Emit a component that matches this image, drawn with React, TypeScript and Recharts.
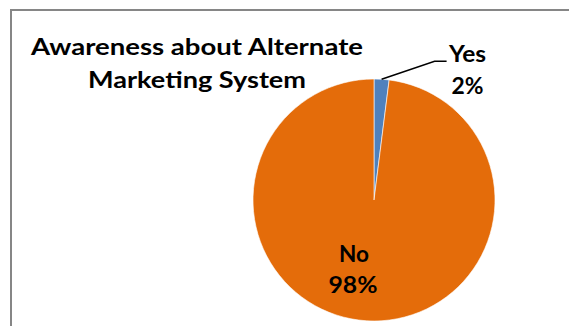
import React from 'react';
import { PieChart, Pie, Cell } from 'recharts';

const categories = ['Yes', 'No'];
const values = [2, 98];
const percentLabels = ['2%', '98%'];
const colors = ['#4F81BD', '#E46C0A'];
const titleLines = ['Awareness about Alternate', 'Marketing System'];
const titleWidths = [332, 218];
const nameWidths = [37, 30];
const pctWidths = [32, 49];

const data = categories.map((name, i) => ({ name, value: values[i], pct: percentLabels[i] }));

const FONT = 'Lato, "Open Sans", sans-serif';
const RAD = Math.PI / 180;

const T = (p: { x: number; y: number; w: number; s: string }) => (
  <text
    x={p.x}
    y={p.y}
    textAnchor="middle"
    fontFamily={FONT}
    fontWeight={700}
    fontSize={23}
    fill="#000"
    textLength={p.w}
    lengthAdjust="spacingAndGlyphs"
  >
    {p.s}
  </text>
);

const renderLabel = (props: any) => {
  const { cx, cy, midAngle, outerRadius, index } = props;
  const d = data[index];
  if (index === 0) {
    const sx = cx + outerRadius * Math.cos(-midAngle * RAD);
    const sy = cy + outerRadius * Math.sin(-midAngle * RAD);
    const ex = sx + 53;
    const ey = sy - 18;
    const hx = ex + 12;
    return (
      <g>
        <polyline points={`${sx},${sy} ${ex},${ey} ${hx},${ey}`} fill="none" stroke="#000" strokeWidth={1.5} />
        <T x={hx + 21} y={ey + 1} w={nameWidths[0]} s={d.name} />
        <T x={hx + 21} y={ey + 33} w={pctWidths[0]} s={d.pct} />
      </g>
    );
  }
  return (
    <g>
      <T x={cx - 20} y={cy + 62} w={nameWidths[1]} s={d.name} />
      <T x={cx - 21} y={cy + 93} w={pctWidths[1]} s={d.pct} />
    </g>
  );
};

export default function App() {
  return (
    <div style={{ position: 'absolute', left: 0, top: 0, width: 569, height: 326, background: '#fff', overflow: 'hidden' }}>
      <div style={{ position: 'absolute', left: 10, top: 9, width: 600, height: 400, border: '2px solid #868686', boxSizing: 'border-box' }} />
      <svg style={{ position: 'absolute', left: 0, top: 0 }} width={569} height={326}>
        {titleLines.map((t, i) => (
          <T key={t} x={197} y={55 + i * 33} w={titleWidths[i]} s={t} />
        ))}
      </svg>
      <div style={{ position: 'absolute', left: 0, top: 0 }}>
        <PieChart width={569} height={326} margin={{ top: 0, right: 0, bottom: 0, left: 0 }}>
          <Pie
            data={data}
            dataKey="value"
            nameKey="name"
            cx={374}
            cy={200}
            outerRadius={121}
            startAngle={90}
            endAngle={-270}
            stroke="#fff"
            strokeWidth={0.6}
            label={renderLabel}
            labelLine={false}
            isAnimationActive={false}
          >
            {data.map((d, i) => (
              <Cell key={d.name} fill={colors[i]} />
            ))}
          </Pie>
        </PieChart>
      </div>
    </div>
  );
}
